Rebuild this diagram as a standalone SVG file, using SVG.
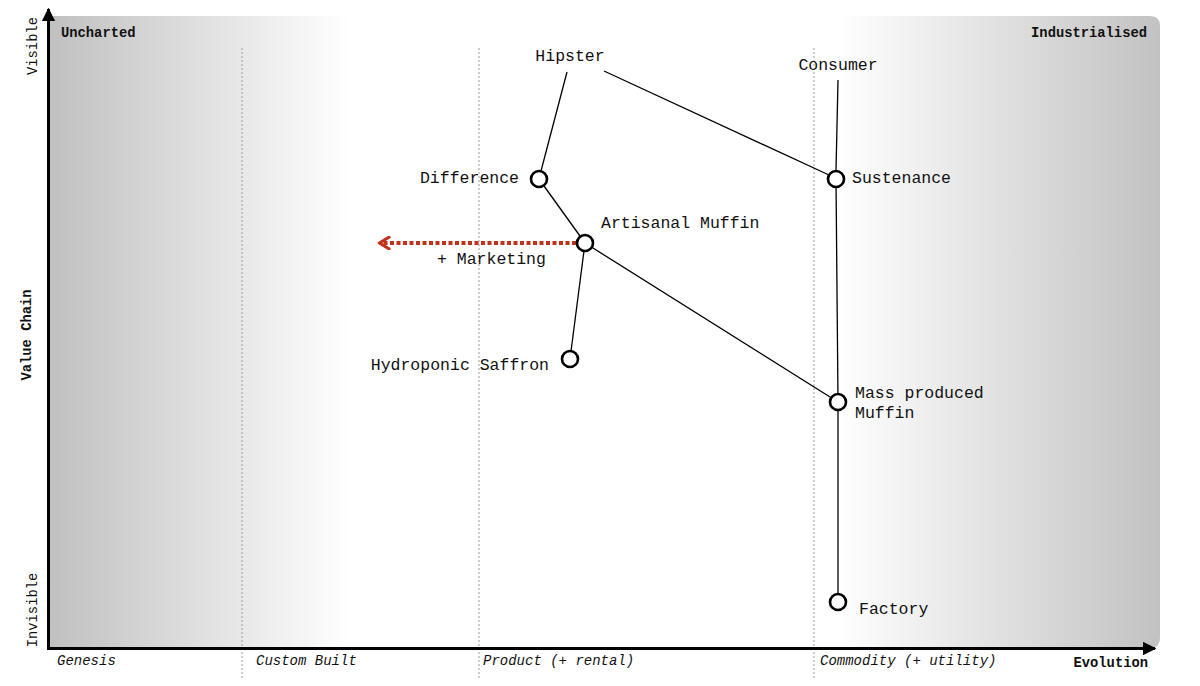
<svg xmlns="http://www.w3.org/2000/svg" width="1200" height="686" viewBox="0 0 1200 686">
<defs>
<linearGradient id="bg" x1="50" y1="0" x2="1160" y2="0" gradientUnits="userSpaceOnUse">
<stop offset="0" stop-color="#c0c0c0"/>
<stop offset="0.27" stop-color="#ffffff"/>
<stop offset="0.71" stop-color="#ffffff"/>
<stop offset="1" stop-color="#c2c2c2"/>
</linearGradient>
<marker id="axh" viewBox="0 0 10 10" refX="9" refY="5" markerWidth="4.5" markerHeight="4.5" orient="auto" markerUnits="strokeWidth">
<path d="M0,0 L10,5 L0,10 z" fill="#000"/>
</marker>
<marker id="red" viewBox="0 0 10 10" refX="8" refY="5" markerWidth="3.5" markerHeight="3.5" orient="auto" markerUnits="strokeWidth">
<path d="M1.5,0.8 L8.5,5 L1.5,9.2" fill="none" stroke="#c0321c" stroke-width="2.2" stroke-linecap="round" stroke-linejoin="round"/>
</marker>
<style>
text{font-family:"Liberation Mono","Courier New",monospace;fill:#111}
.lbl{font-size:16.5px}
.corner{font-size:13.8px;font-weight:bold}
.stage{font-size:14px;font-style:italic}
.ax{font-size:13.8px}
.axb{font-size:13.8px;font-weight:bold}
.grid{stroke:#999;stroke-width:1;stroke-dasharray:2 2}
.edge{stroke:#000;stroke-width:1.3;fill:none}
.node circle{fill:#fff;stroke:#000;stroke-width:2.6}
</style>
</defs>
<path d="M50,16 H1150 Q1160,16 1160,26 V638 Q1160,648 1150,648 H50 Z" fill="url(#bg)"/>
<g id="grid">
<line class="grid" x1="242" y1="48" x2="242" y2="678"/>
<line class="grid" x1="479" y1="48" x2="479" y2="678"/>
<line class="grid" x1="814" y1="48" x2="814" y2="678"/>
</g>
<g id="axes">
<line x1="48.5" y1="649" x2="48.5" y2="9" stroke="#000" stroke-width="3" marker-end="url(#axh)"/>
<line x1="47" y1="648.5" x2="1155" y2="648.5" stroke="#000" stroke-width="3" marker-end="url(#axh)"/>
<text class="corner" x="61" y="37">Uncharted</text>
<text class="corner" x="1147" y="37" text-anchor="end">Industrialised</text>
<text class="stage" x="57" y="665">Genesis</text>
<text class="stage" x="256" y="665">Custom Built</text>
<text class="stage" x="483" y="665">Product (+ rental)</text>
<text class="stage" x="820" y="665">Commodity (+ utility)</text>
<text class="axb" x="1148" y="667" text-anchor="end">Evolution</text>
<text class="ax" transform="translate(37,46) rotate(-90)" text-anchor="middle">Visible</text>
<text class="ax" transform="translate(37,610) rotate(-90)" text-anchor="middle">Invisible</text>
<text class="axb" transform="translate(31,335) rotate(-90)" text-anchor="middle">Value Chain</text>
</g>
<g id="connectors">
<line class="edge" x1="567" y1="72" x2="541" y2="171"/>
<line class="edge" x1="604" y1="71" x2="829" y2="175"/>
<line class="edge" x1="838" y1="80" x2="836" y2="171"/>
<line class="edge" x1="539" y1="179" x2="585" y2="243"/>
<line class="edge" x1="585" y1="243" x2="570" y2="359"/>
<line class="edge" x1="585" y1="243" x2="838" y2="402"/>
<line class="edge" x1="836" y1="179" x2="838" y2="402"/>
<line class="edge" x1="838" y1="402" x2="838" y2="602"/>
<line x1="576" y1="243" x2="380" y2="243" stroke="#c0321c" stroke-width="4" stroke-dasharray="4 2.5" marker-end="url(#red)"/>
<text class="lbl" x="437" y="264">+ Marketing</text>
</g>
<g id="hipster" class="node"><text class="lbl" x="570" y="61" text-anchor="middle">Hipster</text></g>
<g id="consumer" class="node"><text class="lbl" x="838" y="70" text-anchor="middle">Consumer</text></g>
<g id="difference" class="node"><circle cx="539" cy="179" r="8"/><text class="lbl" x="519" y="183" text-anchor="end">Difference</text></g>
<g id="sustenance" class="node"><circle cx="836" cy="179" r="8"/><text class="lbl" x="852" y="183">Sustenance</text></g>
<g id="artisanal" class="node"><circle cx="585" cy="243" r="8"/><text class="lbl" x="601" y="228">Artisanal Muffin</text></g>
<g id="saffron" class="node"><circle cx="570" cy="359" r="8"/><text class="lbl" x="549" y="370" text-anchor="end">Hydroponic Saffron</text></g>
<g id="massmuffin" class="node"><circle cx="838" cy="402" r="8"/><text class="lbl" x="855" y="398">Mass produced</text><text class="lbl" x="855" y="418">Muffin</text></g>
<g id="factory" class="node"><circle cx="838" cy="602" r="8"/><text class="lbl" x="859" y="614">Factory</text></g>
</svg>
